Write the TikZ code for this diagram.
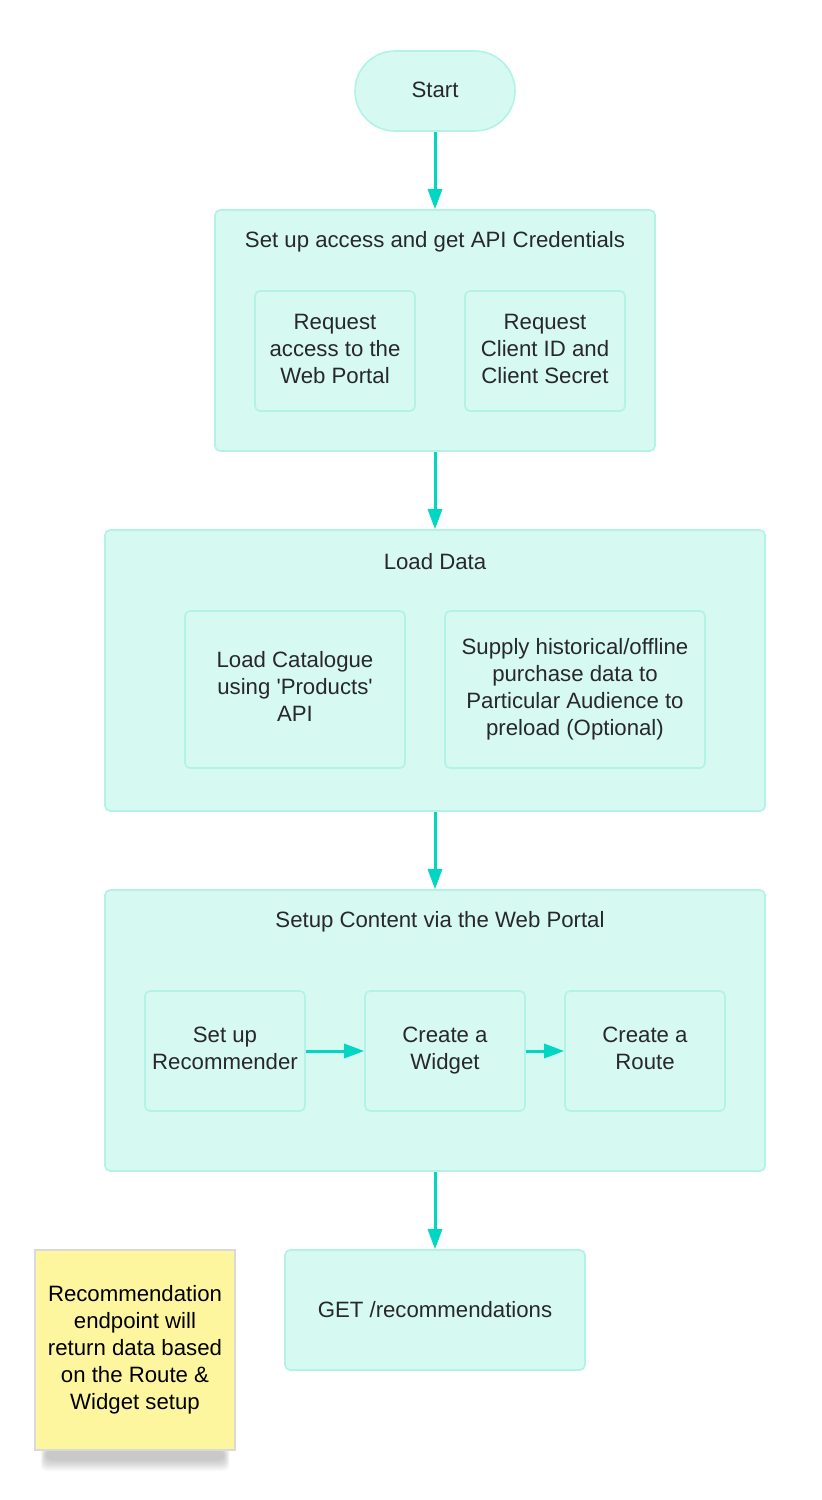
\documentclass[tikz,border=0pt]{standalone}
\usepackage{fontspec}
\setmainfont{Liberation Sans}
\usetikzlibrary{arrows.meta,positioning}
\definecolor{mintfill}{HTML}{D6F9F2}
\definecolor{mintline}{HTML}{B3F2E7}
\definecolor{arrowc}{HTML}{00D6C1}
\definecolor{txt}{HTML}{282828}
\definecolor{notefill}{HTML}{FEF59F}
\definecolor{noteline}{HTML}{DADADA}
\newcommand{\up}[2]{\raisebox{#1}{\begin{tabular}{@{}c@{}}#2\end{tabular}}}
\tikzset{
  base/.style={draw=mintline, fill=mintfill, line width=1.6pt, rounded corners=5pt,
    text=txt, align=center, inner sep=0pt, font=\fontsize{22.2}{27}\selectfont},
  group/.style={base},
  item/.style={base},
  term/.style={base, rounded corners=40pt},
  title/.style={text=txt, inner sep=0pt, font=\fontsize{22.2}{27}\selectfont},
  conn/.style={draw=arrowc, line width=3pt, -{Triangle[length=20pt,width=14pt]}},
  note/.style={draw=noteline, fill=notefill, line width=1.6pt, text=black, align=center,
    inner sep=0pt, font=\fontsize{22.2}{27}\selectfont}
}
\begin{document}
\begin{tikzpicture}[x=1pt,y=-1pt]
\useasboundingbox (0,0) rectangle (822,1500);
% Start
\node[term, minimum width=160pt, minimum height=80pt] (start) at (435,91) {\raisebox{3pt}{Start}};
% Group 1
\node[group, minimum width=440pt, minimum height=241pt] (g1) at (435,330.5) {};
\node[title] (t1) at (435,241.5) {Set up access and get API Credentials};
\node[item, minimum width=160pt, minimum height=120pt] (a1) at (335,351) {\up{2pt}{Request\\access to the\\Web Portal}};
\node[item, minimum width=160pt, minimum height=120pt] (a2) at (545,351) {\up{2pt}{Request\\Client ID and\\Client Secret}};
% Group 2
\node[group, minimum width=660pt, minimum height=281pt] (g2) at (435,670.5) {};
\node[title] (t2) at (435,561.5) {Load Data};
\node[item, minimum width=220pt, minimum height=157pt] (b1) at (295,689.5) {\up{3pt}{Load Catalogue\\using \textquotesingle Products\textquotesingle\\API}};
\node[item, minimum width=260pt, minimum height=157pt] (b2) at (575,689.5) {\up{2pt}{Supply historical/offline\\purchase data to\\Particular Audience to\\preload (Optional)}};
% Group 3
\node[group, minimum width=660pt, minimum height=281pt] (g3) at (435,1030.5) {};
\node[title] (t3) at (440,921.5) {Setup Content via the Web Portal};
\node[item, minimum width=160pt, minimum height=120pt] (c1) at (225,1051) {\up{2pt}{Set up\\Recommender}};
\node[item, minimum width=160pt, minimum height=120pt] (c2) at (445,1051) {\up{1pt}{Create a\\Widget}};
\node[item, minimum width=160pt, minimum height=120pt] (c3) at (645,1051) {\up{1pt}{Create a\\Route}};
% GET
\node[item, minimum width=300pt, minimum height=120pt] (get) at (435,1310) {GET /recommendations};
% Note shadow
\foreach \i in {1,...,12} {
  \fill[black, opacity=0.02, rounded corners=6pt] (40+\i*0.5,1446+\i*0.3) rectangle (230-\i*0.5,1472-\i*1.0);
}
\node[note, minimum width=200pt, minimum height=200pt] (n) at (135,1350) {Recommendation\\endpoint will\\return data based\\on the Route \&\\Widget setup};
% Connectors
\draw[conn] (start) -- (g1);
\draw[conn] (g1) -- (g2);
\draw[conn] (g2) -- (g3);
\draw[conn] (g3) -- (get);
\draw[conn] (c1) -- (c2);
\draw[conn] (c2) -- (c3);
\end{tikzpicture}
\end{document}
